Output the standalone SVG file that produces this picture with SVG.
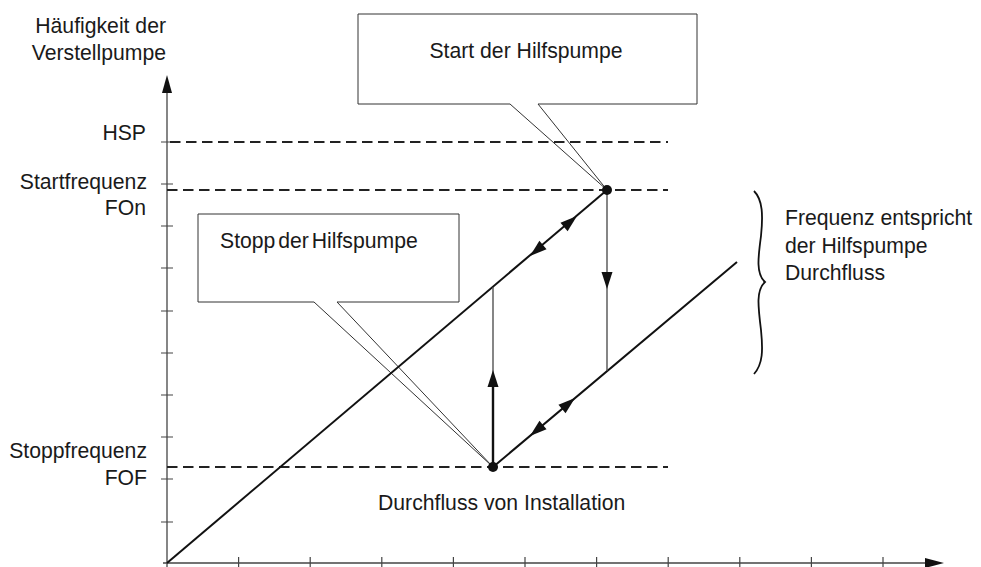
<svg xmlns="http://www.w3.org/2000/svg" width="981" height="567" viewBox="0 0 981 567">
<style>
text{font-family:"Liberation Sans",Arial,sans-serif;font-size:21.2px;fill:#1a1a1a}
.axis{stroke:#444;stroke-width:1.3;fill:none}
.tick{stroke:#444;stroke-width:1.2}
.dash{stroke:#222;stroke-width:2;stroke-dasharray:10.5 5.5;fill:none}
.main{stroke:#111;stroke-width:2;fill:none}
.thin{stroke:#444;stroke-width:1.3;fill:none}
.call{stroke:#333;stroke-width:1;fill:#fff}
.ptr{stroke:#333;stroke-width:1;fill:none}
.ah{fill:#111}
</style>
<defs>
<path id="ah" d="M0,0 L-17,-5.5 L-17,5.5 Z"/>
</defs>
<g id="axes">
<path class="axis" d="M167,567 V88"/>
<path class="axis" d="M163,563 H928"/>
<path class="ah" d="M167,75 L162,93 L172,93 Z"/>
<path class="ah" d="M944,563 L925,558 L925,568 Z"/>
<g class="tick">
<path d="M161,142H173M161,184H173M161,226H173M161,268H173M161,311H173M161,353H173M161,395H173M161,437H173M161,479H173M161,522H173"/>
<path d="M238.6,557V567M310.2,557V567M381.8,557V567M453.4,557V567M525,557V567M596.6,557V567M668.2,557V567M739.8,557V567M811.4,557V567M883,557V567"/>
</g>
</g>
<g id="ylabel">
<text x="166" y="33" text-anchor="end">Häufigkeit der</text>
<text x="166" y="60" text-anchor="end">Verstellpumpe</text>
</g>
<g id="hsp">
<path class="dash" d="M170,142 H668"/>
<text x="146" y="140" text-anchor="end">HSP</text>
</g>
<g id="fon">
<path class="dash" d="M167,190 H668"/>
<text x="147" y="189" text-anchor="end">Startfrequenz</text>
<text x="146" y="215" text-anchor="end">FOn</text>
</g>
<g id="fof">
<path class="dash" d="M167,467 H668"/>
<text x="147" y="458" text-anchor="end">Stoppfrequenz</text>
<text x="147" y="485" text-anchor="end">FOF</text>
</g>
<g id="start-callout">
<path class="call" d="M510,104 H358 V14 H697 V104 H538"/>
<path class="ptr" d="M510,104 L607,190 L538,104"/>
<text x="526" y="58" text-anchor="middle">Start der Hilfspumpe</text>
</g>
<g id="stop-callout">
<path class="call" d="M314,302 H198 V214 H459 V302 H337"/>
<path class="ptr" d="M314,302 L493,467 L337,302"/>
<text x="220" y="248" word-spacing="-3">Stopp der Hilfspumpe</text>
</g>
<g id="connectors">
<path class="main" d="M167,563 L607,190"/>
<path class="main" d="M493,467 L737,262"/>
<path class="thin" d="M607,190 V371"/>
<path class="thin" d="M493,387 V287"/>
<path class="main" style="stroke-width:2.4" d="M493,467 V385"/>
<use href="#ah" class="ah" transform="translate(577,216) rotate(-40.3)"/>
<use href="#ah" class="ah" transform="translate(530,256) rotate(139.7)"/>
<use href="#ah" class="ah" transform="translate(575,398) rotate(-40.2)"/>
<use href="#ah" class="ah" transform="translate(530,436) rotate(139.8)"/>
<use href="#ah" class="ah" transform="translate(607,289) rotate(90)"/>
<use href="#ah" class="ah" transform="translate(493,370) rotate(-90)"/>
</g>
<g id="start-point"><circle cx="607" cy="190" r="5" fill="#111"/></g>
<g id="stop-point"><circle cx="493" cy="467" r="5" fill="#111"/></g>
<g id="brace">
<path d="M754,191 C763,200 763,216 761,236 C758,258 756,274 765,282 C756,290 758,306 761,330 C763,350 763,364 754,374" fill="none" stroke="#111" stroke-width="1.8"/>
<text x="785" y="225">Frequenz entspricht</text>
<text x="785" y="253">der Hilfspumpe</text>
<text x="785" y="280">Durchfluss</text>
</g>
<g id="xlabel">
<text x="378" y="510">Durchfluss von Installation</text>
</g>
</svg>
